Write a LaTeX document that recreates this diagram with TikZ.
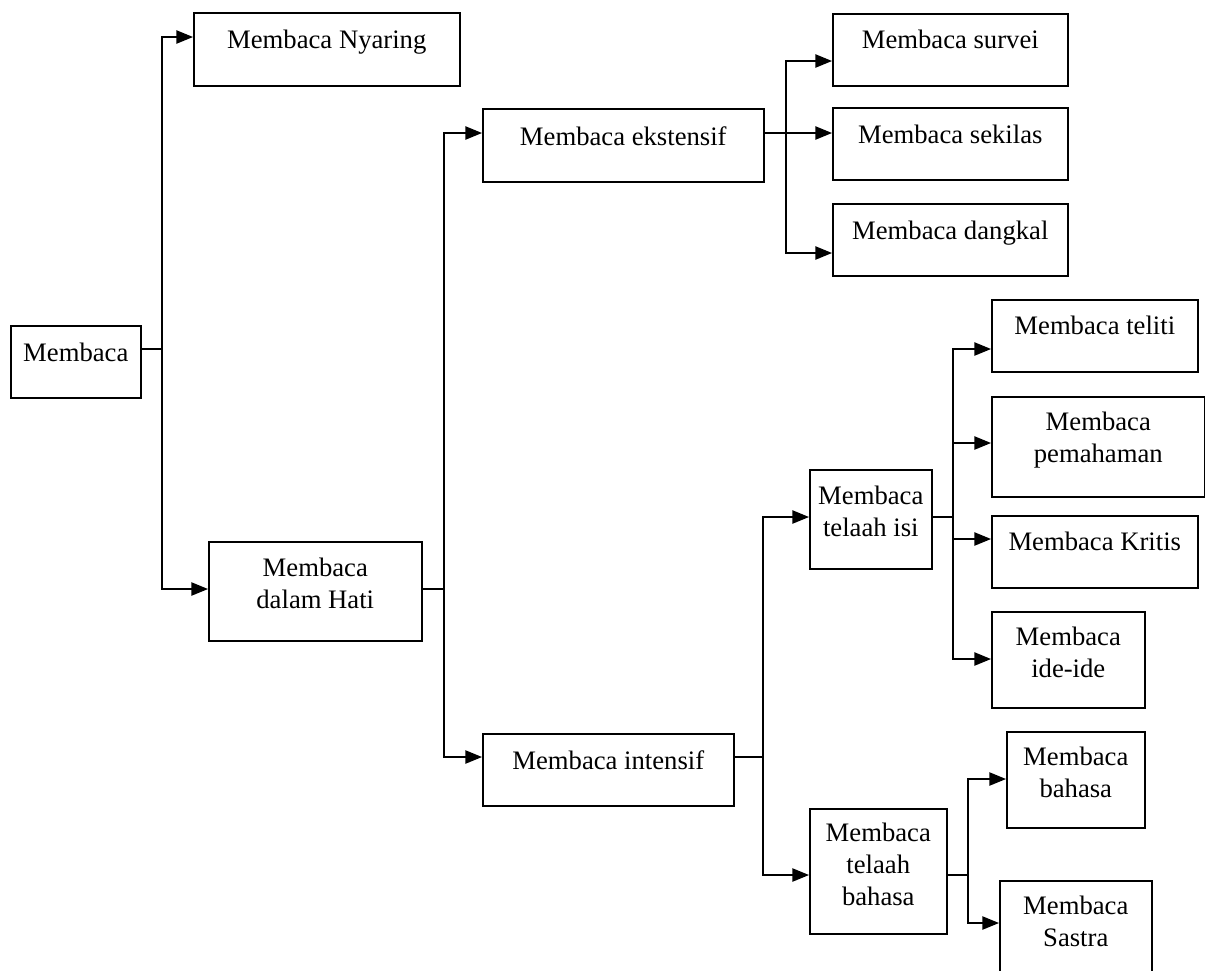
\documentclass[tikz,border=0pt]{standalone}
\usepackage{fontspec}
\setmainfont{Liberation Serif}
\usetikzlibrary{arrows.meta}

\newdimen\px \px=0.45pt
\tikzset{
  box/.style={draw, line width=0.7pt, anchor=north west, align=center,
    inner xsep=0pt, inner ysep=0pt, font=\fontsize{12}{14.4}\selectfont},
  arr/.style={-{Triangle[length=7.5pt,width=6pt]}}
}

\begin{document}
\begin{tikzpicture}[x=0.45pt, y=-0.45pt, line width=0.6pt]
  \useasboundingbox (0,0) rectangle (1205,970);
  % boxes
  \node[box, minimum width=130\px, text height=36\px, text depth=36\px]
    (membaca) at (10,325) {Membaca};
  \node[box, minimum width=266\px, text height=36\px, text depth=37\px]
    (nyaring) at (193,12) {Membaca Nyaring};
  \node[box, minimum width=213\px, text height=67\px, text depth=32\px]
    (hati) at (208,541) {Membaca\\dalam Hati};
  \node[box, minimum width=281\px, text height=37\px, text depth=36\px]
    (ekstensif) at (482,108) {Membaca ekstensif};
  \node[box, minimum width=251\px, text height=36\px, text depth=36\px]
    (intensif) at (482,733) {Membaca intensif};
  \node[box, minimum width=235\px, text height=35\px, text depth=37\px]
    (survei) at (832,13) {Membaca survei};
  \node[box, minimum width=235\px, text height=36\px, text depth=36\px]
    (sekilas) at (832,107) {Membaca sekilas};
  \node[box, minimum width=235\px, text height=36\px, text depth=36\px]
    (dangkal) at (832,203) {Membaca dangkal};
  \node[box, minimum width=122\px, text height=67\px, text depth=32\px]
    (isi) at (809,469) {Membaca\\telaah isi};
  \node[box, minimum width=137\px, text height=97\px, text depth=28\px]
    (tbahasa) at (809,808) {Membaca\\telaah\\bahasa};
  \node[box, minimum width=206\px, text height=35\px, text depth=37\px]
    (teliti) at (991,299) {Membaca teliti};
  \node[box, minimum width=213\px, text height=66\px, text depth=34\px]
    (pemahaman) at (991,396) {Membaca\\pemahaman};
  \node[box, minimum width=206\px, text height=35\px, text depth=37\px]
    (kritis) at (991,515) {Membaca Kritis};
  \node[box, minimum width=153\px, text height=66\px, text depth=30\px]
    (ide) at (991,611) {Membaca\\ide-ide};
  \node[box, minimum width=138\px, text height=66\px, text depth=30\px]
    (bbahasa) at (1006,731) {Membaca\\bahasa};
  \node[box, minimum width=152\px, text height=66\px, text depth=67\px]
    (sastra) at (999,880) {Membaca\\Sastra};

  % Membaca
  \coordinate (s1) at (162,349);
  \draw (membaca.east |- s1) -- (s1);
  \draw[arr] (s1) |- (nyaring.west |- 0,37);
  \draw[arr] (s1) |- (hati.west |- 0,589);
  % dalam Hati
  \coordinate (s2) at (444,589);
  \draw (hati.east |- s2) -- (s2);
  \draw[arr] (s2) |- (ekstensif.west |- 0,133);
  \draw[arr] (s2) |- (intensif.west |- 0,757);
  % ekstensif
  \coordinate (s3) at (786,133);
  \draw[arr] (ekstensif.east |- s3) -- (sekilas.west |- s3);
  \draw[arr] (s3) |- (survei.west |- 0,61);
  \draw[arr] (s3) |- (dangkal.west |- 0,253);
  % intensif
  \coordinate (s4) at (763,757);
  \draw (intensif.east |- s4) -- (s4);
  \draw[arr] (s4) |- (isi.west |- 0,517);
  \draw[arr] (s4) |- (tbahasa.west |- 0,875);
  % telaah isi
  \coordinate (s5) at (953,517);
  \draw (isi.east |- s5) -- (s5);
  \draw[arr] (s5) |- (teliti.west |- 0,349);
  \draw[arr] (s5) |- (pemahaman.west |- 0,443);
  \draw[arr] (s5) |- (kritis.west |- 0,539);
  \draw[arr] (s5) |- (ide.west |- 0,659);
  % telaah bahasa
  \coordinate (s6) at (968,875);
  \draw (tbahasa.east |- s6) -- (s6);
  \draw[arr] (s6) |- (bbahasa.west |- 0,779);
  \draw[arr] (s6) |- (sastra.west |- 0,923);
\end{tikzpicture}
\end{document}
